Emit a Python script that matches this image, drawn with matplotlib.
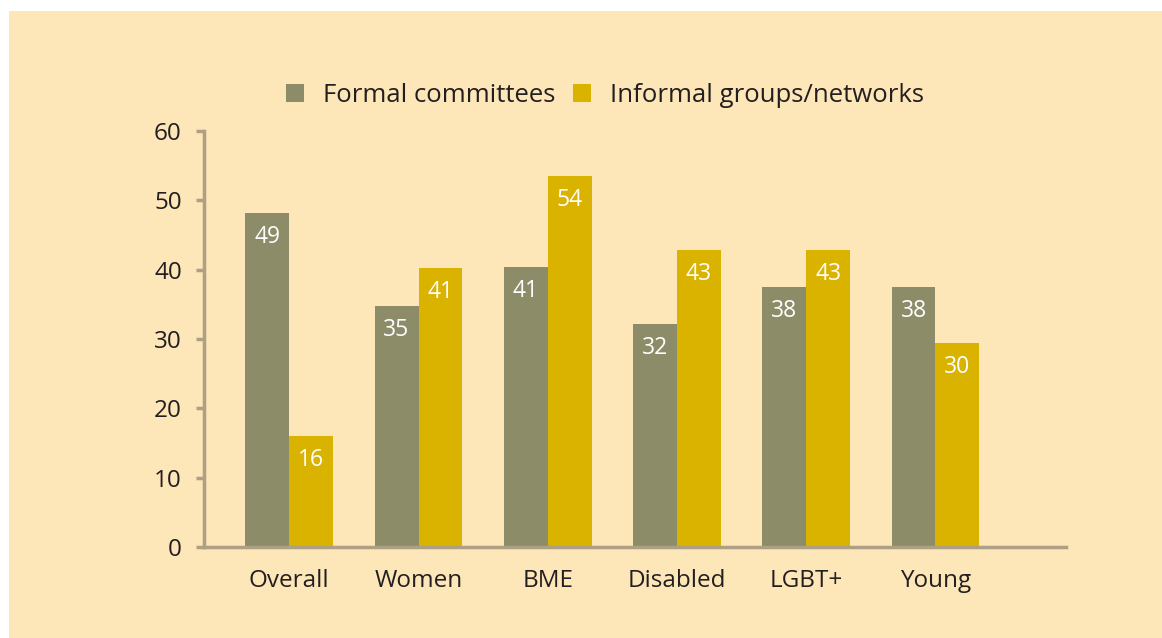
import numpy as np
import matplotlib.pyplot as plt
from matplotlib.patches import Rectangle

categories = ["Overall", "Women", "BME", "Disabled", "LGBT+", "Young"]
formal = [48.2, 34.8, 40.4, 32.2, 37.5, 37.5]
informal = [16.0, 40.2, 53.5, 42.8, 42.8, 29.4]
formal_labels = ["49", "35", "41", "32", "38", "38"]
informal_labels = ["16", "41", "54", "43", "43", "30"]

bg = "#FDE6B8"
c_formal = "#8C8C68"
c_informal = "#DAB200"
axis_col = "#ADA084"
txt = "#231F20"

plt.rcParams['font.family'] = ['Open Sans', 'DejaVu Sans']

fig = plt.figure(figsize=(11.62, 6.38), dpi=100)
fig.patch.set_facecolor("white")
fig.patches.append(Rectangle((9 / 1162, 0), 1 - 9 / 1162, 1 - 11 / 638,
                             transform=fig.transFigure, facecolor=bg,
                             edgecolor="none", zorder=-5))

ax = fig.add_axes([204 / 1162, 91 / 638, 862 / 1162, 416 / 638])
ax.set_facecolor("none")
ax.set_zorder(2)

x = np.arange(len(categories))
w = 0.34
b1 = ax.bar(x - w / 2, formal, w, color=c_formal, label="Formal committees")
b2 = ax.bar(x + w / 2, informal, w, color=c_informal, label="Informal groups/networks")

for bars, labs in [(b1, formal_labels), (b2, informal_labels)]:
    for r, lab in zip(bars, labs):
        ax.annotate(lab, (r.get_x() + r.get_width() / 2, r.get_height()),
                    xytext=(0, -24), textcoords="offset pixels",
                    ha="center", va="center", color="white", fontsize=16.5)

ax.set_xlim(-0.66, 6.01)
ax.set_ylim(0, 60)
ax.set_yticks(range(0, 61, 10))
ax.set_xticks(x)
ax.set_xticklabels(categories)
for s in ["top", "right"]:
    ax.spines[s].set_visible(False)
for s in ["left", "bottom"]:
    ax.spines[s].set_color(axis_col)
    ax.spines[s].set_linewidth(2.5)
ax.tick_params(axis="y", length=6, width=2.5, color=axis_col, labelsize=17.5,
               labelcolor=txt, pad=10)
ax.tick_params(axis="x", length=0, labelsize=17.5, labelcolor=txt, pad=16)

leg = fig.legend(loc="center", bbox_to_anchor=(605 / 1162, 1 - 95 / 638), ncol=2,
                 frameon=False, fontsize=18.5, handlelength=0.7, handleheight=0.7,
                 handletextpad=0.75, columnspacing=0.7, labelcolor=txt)

fig.savefig("out.png", dpi=100, facecolor=fig.get_facecolor())
